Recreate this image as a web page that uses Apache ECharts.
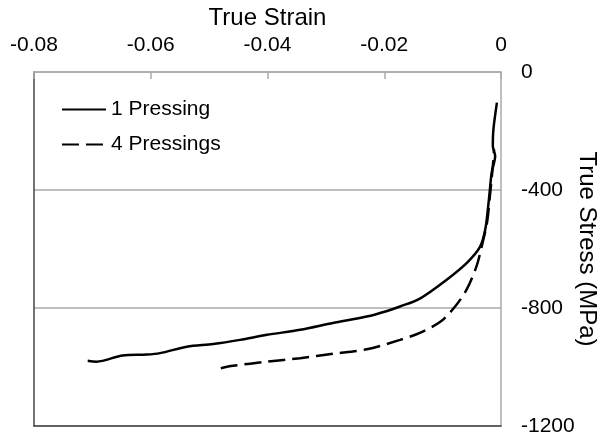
<!DOCTYPE html>
<html>
<head>
<meta charset="utf-8">
<script src="https://cdn.jsdelivr.net/npm/echarts@6/dist/echarts.min.js"></script>
<style>html,body{margin:0;padding:0;background:#fff}#c{width:601px;height:436px}</style>
</head>
<body>
<div id="c"></div>
<script>
var seriesNames = ['1 Pressing', '4 Pressings'];
var strain1 = [-0.0708,-0.0693,-0.0648,-0.0607,-0.0584,-0.0538,-0.0493,-0.0447,-0.0401,-0.0344,-0.0288,-0.0230,-0.0195,-0.0173,-0.0139,-0.0093,-0.0058,-0.0036,-0.0027,-0.0022,-0.0019,-0.0016,-0.0010,-0.0014,-0.0013,-0.0007];
var stress1 = [-979,-982,-961,-958,-953,-931,-922,-908,-891,-874,-851,-829,-810,-795,-768,-704,-646,-593,-534,-456,-398,-341,-285,-251,-195,-104];
var strain4 = [-0.0480,-0.0459,-0.0401,-0.0344,-0.0288,-0.0230,-0.0173,-0.0139,-0.0104,-0.0079,-0.0059,-0.0042,-0.0033,-0.0024,-0.0019,-0.0013,-0.0012];
var stress4 = [-1004,-996,-982,-970,-955,-940,-908,-884,-847,-796,-738,-659,-591,-511,-421,-297,-262];
var xTicks = {min:-0.08, max:0, interval:0.02};
var yTicks = {min:-1200, max:0, interval:400};

function pairs(xs, ys){ return xs.map(function(x,i){ return [x, ys[i]]; }); }

var font = 'Liberation Sans, Arial, sans-serif';
var chart = echarts.init(document.getElementById('c'));
chart.setOption({
  animation:false,
  grid:{left:34, right:100, top:72, bottom:10, containLabel:false, outerBoundsMode:'none'},
  legend:{
    orient:'vertical', left:56, top:94, itemWidth:44, itemHeight:14, itemGap:14,
    textStyle:{fontFamily:font, fontSize:21, color:'#000'},
    itemStyle:{opacity:0},
    data:seriesNames
  },
  xAxis:[{
    type:'value', position:'top', min:xTicks.min, max:xTicks.max, interval:xTicks.interval,
    name:'True Strain', nameLocation:'middle', nameGap:42, nameMoveOverlap:false,
    nameTextStyle:{fontFamily:font, fontSize:24, color:'#000'},
    axisLine:{show:true, lineStyle:{color:'#aaa', width:1.5}},
    axisTick:{show:true, inside:true, length:7, lineStyle:{color:'#aaa', width:1.5}},
    axisLabel:{fontFamily:font, fontSize:21, color:'#000', margin:16,
      formatter:function(v){ return Math.abs(v)<1e-9 ? '0' : v.toFixed(2); }},
    splitLine:{show:false}
  },{
    type:'value', position:'bottom', min:xTicks.min, max:xTicks.max,
    axisLine:{show:true, onZero:false, lineStyle:{color:'#444', width:1.5}},
    axisTick:{show:false}, axisLabel:{show:false}, splitLine:{show:false}
  }],
  yAxis:[{
    type:'value', position:'right', min:yTicks.min, max:yTicks.max, interval:yTicks.interval,
    name:'True Stress (MPa)', nameLocation:'middle', nameGap:86, nameRotate:-90, nameMoveOverlap:false,
    nameTextStyle:{fontFamily:font, fontSize:24, color:'#000', verticalAlign:'middle'},
    axisLine:{show:true, lineStyle:{color:'#aaa', width:1.5}},
    axisTick:{show:false},
    axisLabel:{fontFamily:font, fontSize:21, color:'#000', margin:20,
      formatter:function(v){ return String(v); }},
    splitLine:{show:true, lineStyle:{color:'#aaa', width:1.5}}
  },{
    type:'value', position:'left', min:yTicks.min, max:yTicks.max,
    axisLine:{show:true, onZero:false, lineStyle:{color:'#444', width:1.5}},
    axisTick:{show:false}, axisLabel:{show:false}, splitLine:{show:false}
  }],
  series:[{
    name:seriesNames[0], type:'line', data:pairs(strain1, stress1), smooth:0.3,
    symbol:'none', lineStyle:{color:'#000', width:2.5}, itemStyle:{color:'#000'}
  },{
    name:seriesNames[1], type:'line', data:pairs(strain4, stress4), smooth:0.3,
    symbol:'none', lineStyle:{color:'#000', width:2.5, type:[17,7]}, itemStyle:{color:'#000'}
  }]
});
</script>
</body>
</html>
